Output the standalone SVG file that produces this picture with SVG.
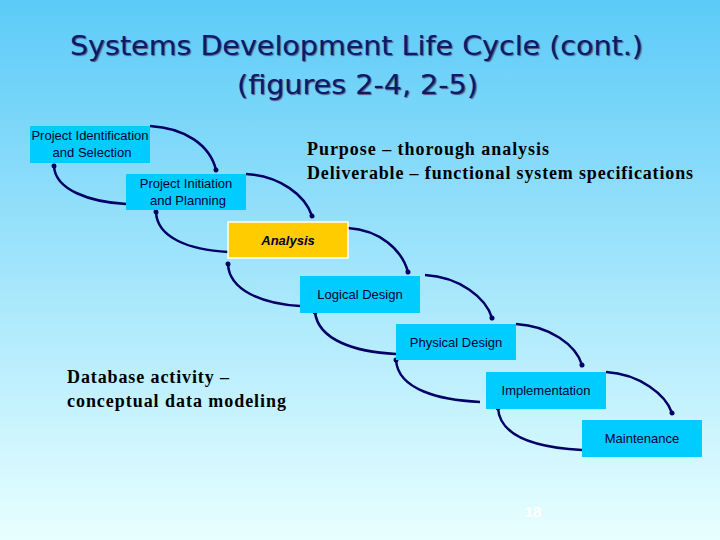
<svg xmlns="http://www.w3.org/2000/svg" width="720" height="540" viewBox="0 0 720 540">
<defs>
<linearGradient id="bg" x1="0" y1="0" x2="0" y2="1"><stop offset="0" stop-color="#5CCBF8"/><stop offset="1" stop-color="#E8FFFF"/></linearGradient>
<marker id="ah" markerWidth="6" markerHeight="6" refX="3" refY="3" orient="auto" markerUnits="userSpaceOnUse"><circle cx="3" cy="3" r="2.5" fill="#000066"/></marker>
<style>
.b{fill:#00CCFF}
.t{font-family:"Liberation Sans",Arial,sans-serif;font-size:13px;fill:#003;text-anchor:middle}
.c{fill:none;stroke:#000066;stroke-width:2.5;marker-end:url(#ah)}
.s{font-family:"Liberation Serif",serif;font-size:18px;font-weight:bold;fill:#000}
</style>
</defs>
<rect width="720" height="540" fill="url(#bg)"/>
<g font-family="DejaVu Sans,Verdana,sans-serif" font-size="26" fill="#0A1A6E" style="text-shadow:1px 1px 1px #557">
<text x="70" y="55" textLength="573" lengthAdjust="spacingAndGlyphs">Systems Development Life Cycle  (cont.)</text>
<text x="237" y="94" textLength="241" lengthAdjust="spacingAndGlyphs">(figures 2-4, 2-5)</text>
</g>
<g id="connectors">
<path class="c" d="M150,126 C185,128 210,145 216,170"/>
<path class="c" d="M246,174 C280,176 305,195 312,216"/>
<path class="c" d="M348,228 C380,230 402,250 408,272"/>
<path class="c" d="M425,275 C460,277 486,298 492,318"/>
<path class="c" d="M516,324 C550,326 576,345 582,365"/>
<path class="c" d="M606,372 C640,374 666,395 672,413"/>
<path class="c" d="M126,204 C90,202 55,190 54,166"/>
<path class="c" d="M228,252 C190,250 157,238 156,212"/>
<path class="c" d="M300,306 C262,304 229,290 228,264"/>
<path class="c" d="M396,354 C355,352 318,340 315,312"/>
<path class="c" d="M480,402 C440,400 398,390 396,360"/>
<path class="c" d="M582,450 C545,448 500,440 498,408"/>
</g>
<g id="n1"><rect class="b" x="30" y="126" width="120" height="37"/><text class="t" x="90" y="140">Project Identification</text><text class="t" x="92" y="157">and Selection</text></g>
<g id="n2"><rect class="b" x="126" y="174" width="120" height="36"/><text class="t" x="186" y="188">Project Initiation</text><text class="t" x="188" y="205">and Planning</text></g>
<g id="n3"><rect x="228" y="222" width="120" height="36" fill="#FFCC00" stroke="#fff" stroke-width="1.5"/><text class="t" x="288" y="245" font-style="italic" font-weight="bold">Analysis</text></g>
<g id="n4"><rect class="b" x="300" y="276" width="120" height="37"/><text class="t" x="360" y="299">Logical Design</text></g>
<g id="n5"><rect class="b" x="396" y="324" width="120" height="36"/><text class="t" x="456" y="347">Physical Design</text></g>
<g id="n6"><rect class="b" x="486" y="372" width="120" height="37"/><text class="t" x="546" y="395">Implementation</text></g>
<g id="n7"><rect class="b" x="582" y="420" width="120" height="37"/><text class="t" x="642" y="443">Maintenance</text></g>
<text class="s" x="307" y="155" textLength="242">Purpose – thorough analysis</text>
<text class="s" x="307" y="179" textLength="386">Deliverable – functional system specifications</text>
<text class="s" x="67" y="383" textLength="162">Database activity –</text>
<text class="s" x="67" y="407" textLength="219">conceptual data modeling</text>
<text x="533" y="517" font-family="Liberation Sans,Arial,sans-serif" font-size="15" font-weight="bold" fill="#fff" text-anchor="middle">18</text>
</svg>
